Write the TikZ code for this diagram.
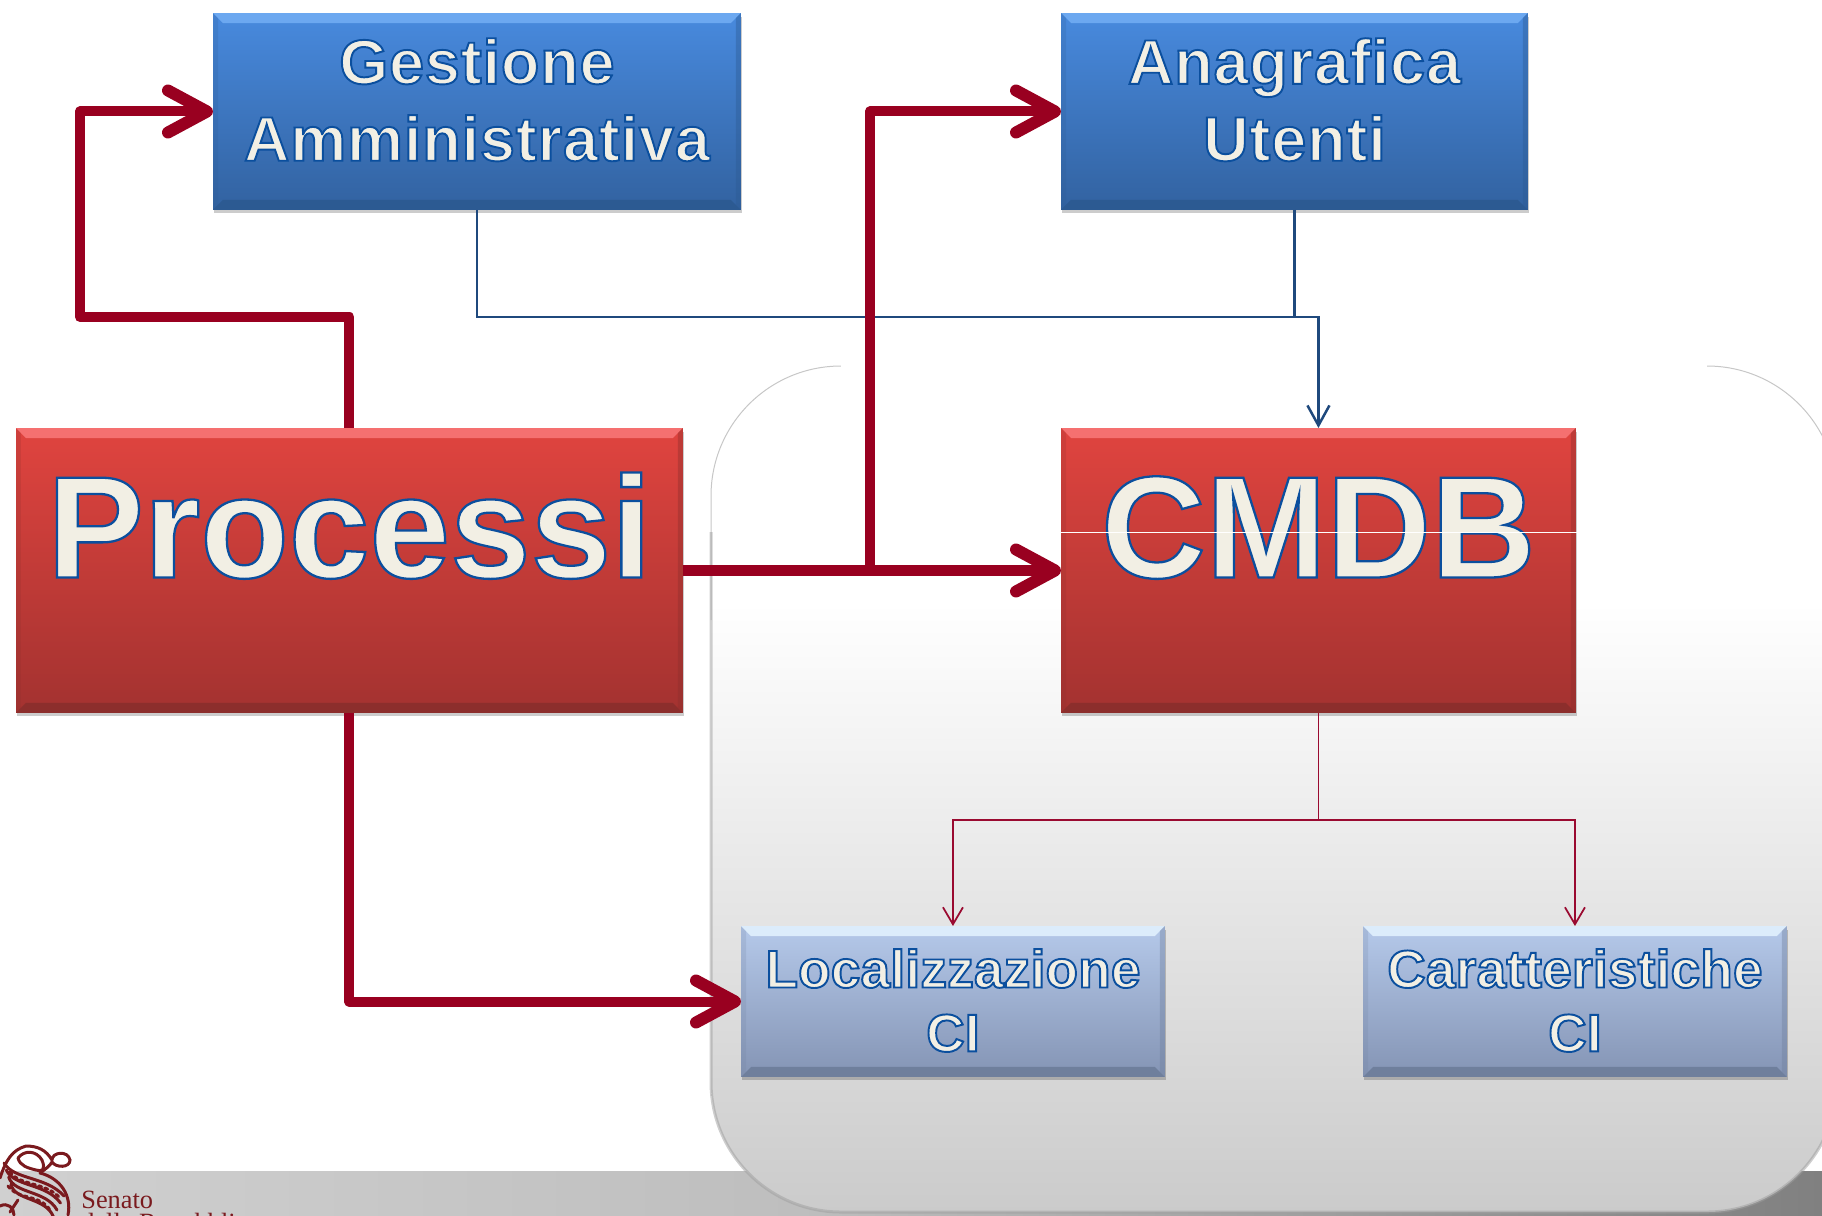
\documentclass[tikz,border=0pt]{standalone}
\usepackage{fontspec}
\usetikzlibrary{arrows.meta,shadows}
\setmainfont{Liberation Sans}
\newfontfamily\boxfont{Liberation Sans Bold}[LetterSpace=1.4]
\newfontfamily\smallfont{Liberation Sans Bold}[LetterSpace=.5]
\newfontfamily\bigfont{Liberation Sans Bold}
\newfontfamily\logofont{Liberation Serif}
\definecolor{flowred}{HTML}{990020}
\definecolor{thinblue}{HTML}{1F497D}
\definecolor{thinred}{HTML}{9A0A30}
\definecolor{cream}{HTML}{F2EFE4}
\definecolor{logored}{HTML}{7A1A1E}
\definecolor{panelbot}{HTML}{CBCBCB}
\definecolor{panelmid}{HTML}{F5F5F5}
\definecolor{bluelight}{HTML}{6CA8F0}
\definecolor{bluedark}{HTML}{2C5A92}
\definecolor{redlight}{HTML}{F57070}
\definecolor{reddark}{HTML}{8C2E2C}
\definecolor{skylight}{HTML}{DCECFB}
\definecolor{skydark}{HTML}{6F7F9C}
\definecolor{bandleft}{HTML}{D0D0D0}
\definecolor{bandmid}{HTML}{BEBEBE}
\definecolor{bandright}{HTML}{808080}
\pgfdeclareverticalshading{panelshade}{100bp}{color(0bp)=(panelbot); color(25bp)=(panelbot); color(54bp)=(panelmid); color(61bp)=(white); color(100bp)=(white)}
\newcommand{\outl}[1]{\special{pdf:code 2 Tr 1.1 w 0.043 0.31 0.62 RG}#1\special{pdf:code 0 Tr}}
\newcommand{\outlbig}[1]{\special{pdf:code 2 Tr 1.3 w 0.043 0.31 0.62 RG}#1\special{pdf:code 0 Tr}}
\newcommand{\bevel}[2]{
  \fill[#1] (path picture bounding box.north west) -- (path picture bounding box.north east)
    -- ([shift={(-.2cm,-.2cm)}]path picture bounding box.north east) -- ([shift={(.2cm,-.2cm)}]path picture bounding box.north west) -- cycle;
  \fill[#2] (path picture bounding box.south west) -- (path picture bounding box.south east)
    -- ([shift={(-.2cm,.2cm)}]path picture bounding box.south east) -- ([shift={(.2cm,.2cm)}]path picture bounding box.south west) -- cycle;
  \fill[#2,opacity=.4] (path picture bounding box.north east) -- (path picture bounding box.south east)
    -- ([shift={(-.1cm,.1cm)}]path picture bounding box.south east) -- ([shift={(-.1cm,-.1cm)}]path picture bounding box.north east) -- cycle;
  \fill[#2,opacity=.2] (path picture bounding box.north west) -- (path picture bounding box.south west)
    -- ([shift={(.1cm,.1cm)}]path picture bounding box.south west) -- ([shift={(.1cm,-.1cm)}]path picture bounding box.north west) -- cycle;
}
\tikzset{
  boxbase/.style={anchor=north west,inner sep=0pt,outer sep=0pt,align=center,text=cream,
    drop shadow={shadow xshift=.02cm,shadow yshift=-.07cm,fill=black,opacity=.2}},
  darkbox/.style={boxbase,top color={rgb,255:red,72;green,138;blue,222},bottom color={rgb,255:red,50;green,98;blue,160},
    minimum height=3.94cm,text depth=.48cm,font=\fontsize{35.8}{43.8}\selectfont\boxfont,
    path picture={\bevel{bluelight}{bluedark}}},
  redbox/.style={boxbase,top color={rgb,255:red,224;green,68;blue,63},bottom color={rgb,255:red,163;green,50;blue,48},
    minimum height=5.7cm,text height=2.2cm,text depth=1.92cm,font=\fontsize{82.5}{90}\selectfont\bigfont,
    path picture={\bevel{redlight}{reddark}}},
  lightbox/.style={boxbase,top color={rgb,255:red,181;green,201;blue,234},bottom color={rgb,255:red,132;green,148;blue,180},
    minimum height=3.02cm,text depth=.05cm,font=\fontsize{30.2}{36.4}\selectfont\smallfont,
    path picture={\bevel{skylight}{skydark}}},
  flow/.style={draw=flowred,line width=.2cm,line join=round,
    -{Straight Barb[length=.78cm,width=.84cm,line width=.24cm,line cap=round,line join=round]}},
  feedblue/.style={draw=thinblue,line width=.05cm,-{Straight Barb[length=.4cm,width=.44cm]}},
  feedred/.style={draw=thinred,line width=.035cm,-{Straight Barb[length=.34cm,width=.4cm]}}
}
\begin{document}
\begin{tikzpicture}[x=.02cm,y=-.02cm]
  \useasboundingbox (0,0) rectangle (1822,1215);
  \clip (0,0) rectangle (1822,1215);
  % footer band and logo
  \path[left color=bandleft,right color=bandmid] (0,1171) rectangle (800,1215);
  \path[left color=bandmid,right color=bandright] (800,1171) rectangle (1822,1215);
  \begin{scope}[draw=logored,line width=.06cm,line cap=round]
    \draw (0,1178) .. controls (6,1160) and (12,1150) .. (26,1146) .. controls (38,1146) and (46,1150) .. (52,1160);
    \draw (52,1160) .. controls (52,1152) and (68,1150) .. (70,1160) .. controls (70,1168) and (56,1168) .. (52,1162) .. controls (50,1166) and (44,1170) .. (40,1173);
    \draw (18,1158) .. controls (24,1150) and (36,1150) .. (42,1160) .. controls (46,1170) and (42,1172) .. (36,1170) .. controls (28,1168) and (20,1166) .. (18,1158);
    \foreach \o in {0,7,14,21}
      \draw (4+\o/3,1163+\o) .. controls (14,1180+\o) and (46,1176+\o) .. (64-\o/2,1196+\o);
    \draw (40,1173) .. controls (60,1178) and (72,1195) .. (68,1215);
    \draw[dotted] (10,1172) .. controls (20,1186) and (46,1182) .. (60,1198);
    \draw[dotted] (8,1186) .. controls (18,1200) and (40,1194) .. (50,1210);
    \draw (18,1200) -- (10,1212);
    \draw (0,1206) .. controls (8,1202) and (14,1208) .. (14,1215);
  \end{scope}
  \node[anchor=base west,inner sep=0pt,text=logored,font=\fontsize{15}{16}\selectfont\logofont] (senato) at (81,1208) {Senato};
  \node[anchor=base west,inner sep=0pt,text=logored,font=\fontsize{15}{16}\selectfont\logofont] (repubblica) at (81,1231) {della Repubblica};
  % rounded panel
  \path[shading=panelshade,rounded corners=2.6cm] (711,366) rectangle (1837,1212);
  \draw[black!22,line width=.02cm,rounded corners=2.6cm] (840,366) -- (711,366) -- (711,620);
  \draw[black!22,line width=.02cm,rounded corners=2.6cm] (1713,366) -- (1837,366) -- (1837,620);
  \draw[black!38,line width=.06cm,opacity=.5,rounded corners=2.6cm] (711,532) -- (711,1212) -- (1837,1212) -- (1837,900);
  % boxes
  \node[darkbox,minimum width=10.56cm] (gestione) at (213,13) {\outl{Gestione}\\\outl{Amministrativa}};
  \node[darkbox,minimum width=9.34cm] (anagrafica) at (1061,13) {\outl{Anagrafica}\\\outl{Utenti}};
  \node[redbox,minimum width=13.34cm] (processi) at (16,428) {\outlbig{Processi}};
  \node[redbox,minimum width=10.3cm] (cmdb) at (1061,428) {\outlbig{CMDB}};
  \node[lightbox,minimum width=8.48cm] (localizzazione) at (741,926) {\outl{Localizzazione}\\\outl{CI}};
  \node[lightbox,minimum width=8.48cm] (caratteristiche) at (1363,926) {\outl{Caratteristiche}\\\outl{CI}};
  \draw[white,line width=.02cm] (1057,532) -- (1578,532);
  % connectors
  \coordinate (leftbend) at (80,317);
  \coordinate (busbend) at (0,317);
  \coordinate (upbend) at (870,110);
  \coordinate (splitbend) at (0,820);
  \draw[feedblue] (gestione.south) -- (gestione.south |- busbend) -- (cmdb.north |- busbend) -- (cmdb.north);
  \draw[draw=thinblue,line width=.05cm] (anagrafica.south) -- (anagrafica.south |- busbend);
  \draw[feedred] (cmdb.south) -- (cmdb.south |- splitbend) -- (localizzazione.north |- splitbend) -- (localizzazione.north);
  \draw[feedred] (cmdb.south |- splitbend) -- (caratteristiche.north |- splitbend) -- (caratteristiche.north);
  \draw[flow] (processi.north) -- (processi.north |- leftbend) -- (leftbend) |- (gestione.west);
  \draw[flow,line width=.23cm] (processi.east) -- (cmdb.west);
  \draw[flow] (processi.east -| upbend) -- (upbend |- anagrafica.west) -- (anagrafica.west);
  \draw[flow] (processi.south) |- (localizzazione.west);
\end{tikzpicture}
\end{document}
